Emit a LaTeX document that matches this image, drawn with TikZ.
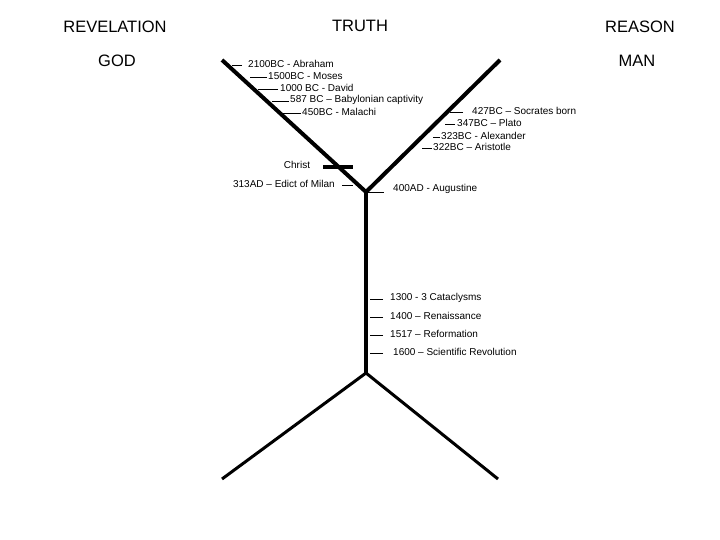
\documentclass[tikz,border=0pt]{standalone}
\usepackage{fontspec}
\setmainfont{Liberation Sans}
\usepackage{tikz}
\usetikzlibrary{calc}
\tikzstyle{heading}=[inner sep=0pt, font=\fontsize{16.5}{19}\selectfont]
\tikzstyle{event}=[anchor=west, inner sep=1pt, font=\fontsize{10}{12}\selectfont]
\tikzstyle{arm}=[line width=4pt]
\tikzstyle{foot}=[line width=3pt]
\tikzstyle{tickline}=[line width=0.8pt]

\begin{document}
\begin{tikzpicture}[x=1pt, y=-1pt]
\useasboundingbox (0,0) rectangle (720,540);
\node[heading] (Rev) at (115,27) {REVELATION};
\node[heading] (God) at (117,61) {GOD};
\node[heading] (Truth) at (360,26) {TRUTH};
\node[heading] (Reason) at (640,27) {REASON};
\node[heading] (Man) at (637,61) {MAN};
\coordinate (TL) at (222,60);
\coordinate (TR) at (500,60);
\coordinate (Top) at (366,192);
\coordinate (Bot) at (366,373);
\coordinate (BL) at (222,479);
\coordinate (BR) at (498,479);
\coordinate (CrossL) at (323,167);
\coordinate (CrossR) at (353,167);
\draw[arm] (TL) -- (Top);
\draw[arm] (TR) -- (Top);
\draw[arm] (Top) -- (Bot);
\draw[foot] (Bot) -- (BL);
\draw[foot] (Bot) -- (BR);
\draw[arm] (CrossL) -- (CrossR);
\node[event] (E1) at (247,64) {2100BC - Abraham};
\node[event] (E2) at (267,76) {1500BC - Moses};
\node[event] (E3) at (279,88) {1000 BC - David};
\node[event] (E4) at (289,100) {587 BC -- Babylonian captivity};
\node[event] (E5) at (301,112) {450BC - Malachi};
\node[event] (E6) at (471,111) {427BC -- Socrates born};
\node[event] (E7) at (456,123) {347BC -- Plato};
\node[event] (E8) at (440,136) {323BC - Alexander};
\node[event] (E9) at (432,147) {322BC -- Aristotle};
\node[event, anchor=center] (Christ) at (297,165) {Christ};
\node[event, anchor=east] (E10) at (336,184) {313AD -- Edict of Milan};
\node[event] (E11) at (392,189) {400AD - Augustine};
\node[event] (E12) at (389,298) {1300 - 3 Cataclysms};
\node[event] (E13) at (389,316) {1400 -- Renaissance};
\node[event] (E14) at (389,334) {1517 -- Reformation};
\node[event] (E15) at (392,352) {1600 -- Scientific Revolution};
\draw[tickline] ($(E1.west)+(-5,1)$) -- +(-10,0);
\draw[tickline] ($(E2.west)+(0,1)$) -- +(-17,0);
\draw[tickline] ($(E3.west)+(-1,1)$) -- +(-20,0);
\draw[tickline] ($(E4.west)+(0,1)$) -- +(-17,0);
\draw[tickline] ($(E5.west)+(0,1)$) -- +(-18,0);
\draw[tickline] ($(E6.west)+(-8,1)$) -- +(-13,0);
\draw[tickline] ($(E7.west)+(-1,1)$) -- +(-10,0);
\draw[tickline] ($(E8.west)+(0,1)$) -- +(-7,0);
\draw[tickline] ($(E9.west)+(0,1)$) -- +(-10,0);
\draw[tickline] ($(E10.east)+(6,1)$) -- +(11,0);
\draw[tickline] (Top) -- +(18,0);
\draw[tickline] ($(E12.west)+(-6,1)$) -- +(-13,0);
\draw[tickline] ($(E13.west)+(-6,1)$) -- +(-13,0);
\draw[tickline] ($(E14.west)+(-6,1)$) -- +(-13,0);
\draw[tickline] ($(E15.west)+(-9,1)$) -- +(-13,0);
\end{tikzpicture}
\end{document}
